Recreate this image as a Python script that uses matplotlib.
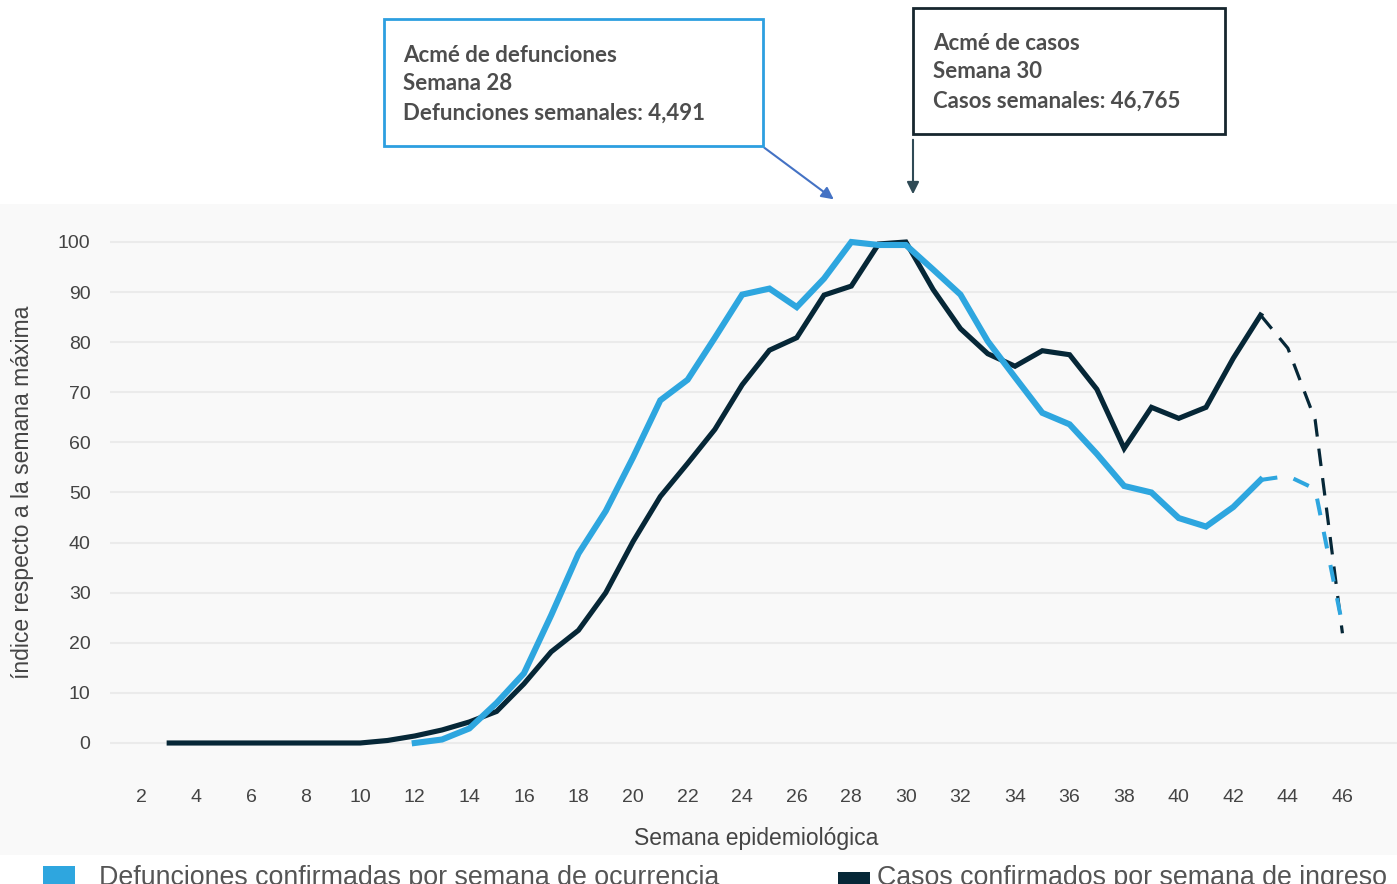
import matplotlib
matplotlib.use("Agg")
import matplotlib.pyplot as plt
from matplotlib.patches import Rectangle

# Semanas epidemiologicas y valores (indice respecto a la semana maxima)
semanas_casos = list(range(3, 44))
casos = [0, 0, 0, 0, 0, 0, 0, 0, 0.5, 1.4, 2.6, 4.2, 6.3, 11.8, 18.2, 22.5,
         30.0, 40.2, 49.2, 55.8, 62.6, 71.5, 78.4, 80.9, 89.4, 91.2, 99.6,
         100.0, 90.5, 82.7, 77.7, 75.2, 78.3, 77.5, 70.6, 58.8, 67.0, 64.8,
         67.0, 76.8, 85.4]
semanas_casos_prelim = [43, 44, 45, 46]
casos_prelim = [85.4, 78.8, 64.5, 21.9]

semanas_def = list(range(12, 44))
defunciones = [0, 0.7, 2.9, 8.0, 13.9, 25.5, 37.8, 46.3, 57.0, 68.4, 72.5,
               80.9, 89.5, 90.7, 87.0, 92.7, 100.0, 99.4, 99.4, 94.5, 89.5,
               80.2, 73.0, 65.9, 63.6, 57.7, 51.3, 50.0, 44.9, 43.2, 47.1, 52.5]
semanas_def_prelim = [43, 44, 45, 46]
defunciones_prelim = [52.5, 53.3, 50.7, 23.5]

xticks = list(range(2, 47, 2))
yticks = list(range(0, 101, 10))

azul = "#2ea6df"
negro = "#062737"
W, H = 1397, 884


def fx(x):
    return x / W


def fy(y):
    return 1 - y / H


fig = plt.figure(figsize=(W / 100, H / 100), dpi=100)
plt.rcParams['font.family'] = ['Liberation Sans', 'DejaVu Sans']

# fondo gris del area del grafico
fig.add_artist(Rectangle((0, fy(855)), 1, fy(204) - fy(855),
                         transform=fig.transFigure, facecolor="#f9f9f9",
                         edgecolor="none", zorder=0))

ax = fig.add_axes([fx(110), fy(770), 1 - fx(110), fy(222) - fy(770)])
ax.set_facecolor("none")
ax.set_xlim(0.83, 48.0)
ax.set_ylim(-5.39, 103.99)

ax.plot(semanas_casos, casos, color=negro, lw=3.7, solid_joinstyle="miter",
        zorder=3)
ax.plot(semanas_casos_prelim, casos_prelim, color=negro, lw=2.3,
        dashes=(5.5, 3.8), zorder=3)
ax.plot(semanas_def, defunciones, color=azul, lw=4.4, solid_joinstyle="miter",
        zorder=4)
ax.plot(semanas_def_prelim, defunciones_prelim, color=azul, lw=2.9,
        dashes=(4.2, 4.2), zorder=4)

ax.set_xticks(xticks)
ax.set_yticks(yticks)
ax.tick_params(axis="both", length=0, labelsize=14, labelcolor="#444444")
ax.tick_params(axis="x", pad=14)
ax.tick_params(axis="y", pad=14)
ax.grid(axis="y", color="#ebebeb", lw=1.5)
ax.set_axisbelow(True)
for s in ax.spines.values():
    s.set_visible(False)

fig.text(fx(756), fy(838), "Semana epidemiológica", ha="center", va="center",
         fontsize=16.5, color="#444444")
fig.text(fx(23), fy(492), "índice respecto a la semana máxima", ha="center",
         va="center", rotation=90, fontsize=16.5, color="#444444")

# cuadros de anotacion
caja_font = ['Lato', 'DejaVu Sans']
fig.add_artist(Rectangle((fx(384), fy(146)), fx(763) - fx(384),
                         fy(19) - fy(146), transform=fig.transFigure,
                         facecolor="white", edgecolor="#2d9fe0", lw=2))
for i, t in enumerate(["Acmé de defunciones", "Semana 28",
                       "Defunciones semanales: 4,491"]):
    fig.text(fx(403), fy(55 + 29 * i), t, ha="left", va="center",
             fontsize=16, fontweight="bold", color="#4d4d4d",
             family=caja_font)

fig.add_artist(Rectangle((fx(913), fy(134)), fx(1225) - fx(913),
                         fy(8) - fy(134), transform=fig.transFigure,
                         facecolor="white", edgecolor="#16262e", lw=2))
for i, t in enumerate(["Acmé de casos", "Semana 30",
                       "Casos semanales: 46,765"]):
    fig.text(fx(933), fy(43 + 29 * i), t, ha="left", va="center",
             fontsize=16, fontweight="bold", color="#4d4d4d",
             family=caja_font)

ax.annotate("", xy=(fx(836), fy(201)), xytext=(fx(762), fy(146)),
            xycoords="figure fraction", textcoords="figure fraction",
            arrowprops=dict(arrowstyle="-|>", color="#4472c4", lw=1.5,
                            mutation_scale=18), annotation_clip=False)
ax.annotate("", xy=(fx(913), fy(197)), xytext=(fx(913), fy(137)),
            xycoords="figure fraction", textcoords="figure fraction",
            arrowprops=dict(arrowstyle="-|>", color="#2f4a55", lw=1.5,
                            mutation_scale=18), annotation_clip=False)

# leyenda (cortada por el borde inferior)
fig.add_artist(Rectangle((fx(43), fy(890)), fx(75) - fx(43), fy(866) - fy(890),
                         transform=fig.transFigure, facecolor=azul,
                         edgecolor="none"))
fig.text(fx(99), fy(865), "Defunciones confirmadas por semana de ocurrencia",
         ha="left", va="top", fontsize=19.3, color="#555555")
fig.add_artist(Rectangle((fx(838), fy(890)), fx(870) - fx(838),
                         fy(872) - fy(890), transform=fig.transFigure,
                         facecolor=negro, edgecolor="none"))
fig.text(fx(877), fy(865), "Casos confirmados por semana de ingreso",
         ha="left", va="top", fontsize=19.3, color="#555555")

fig.savefig("out.png", dpi=100)
